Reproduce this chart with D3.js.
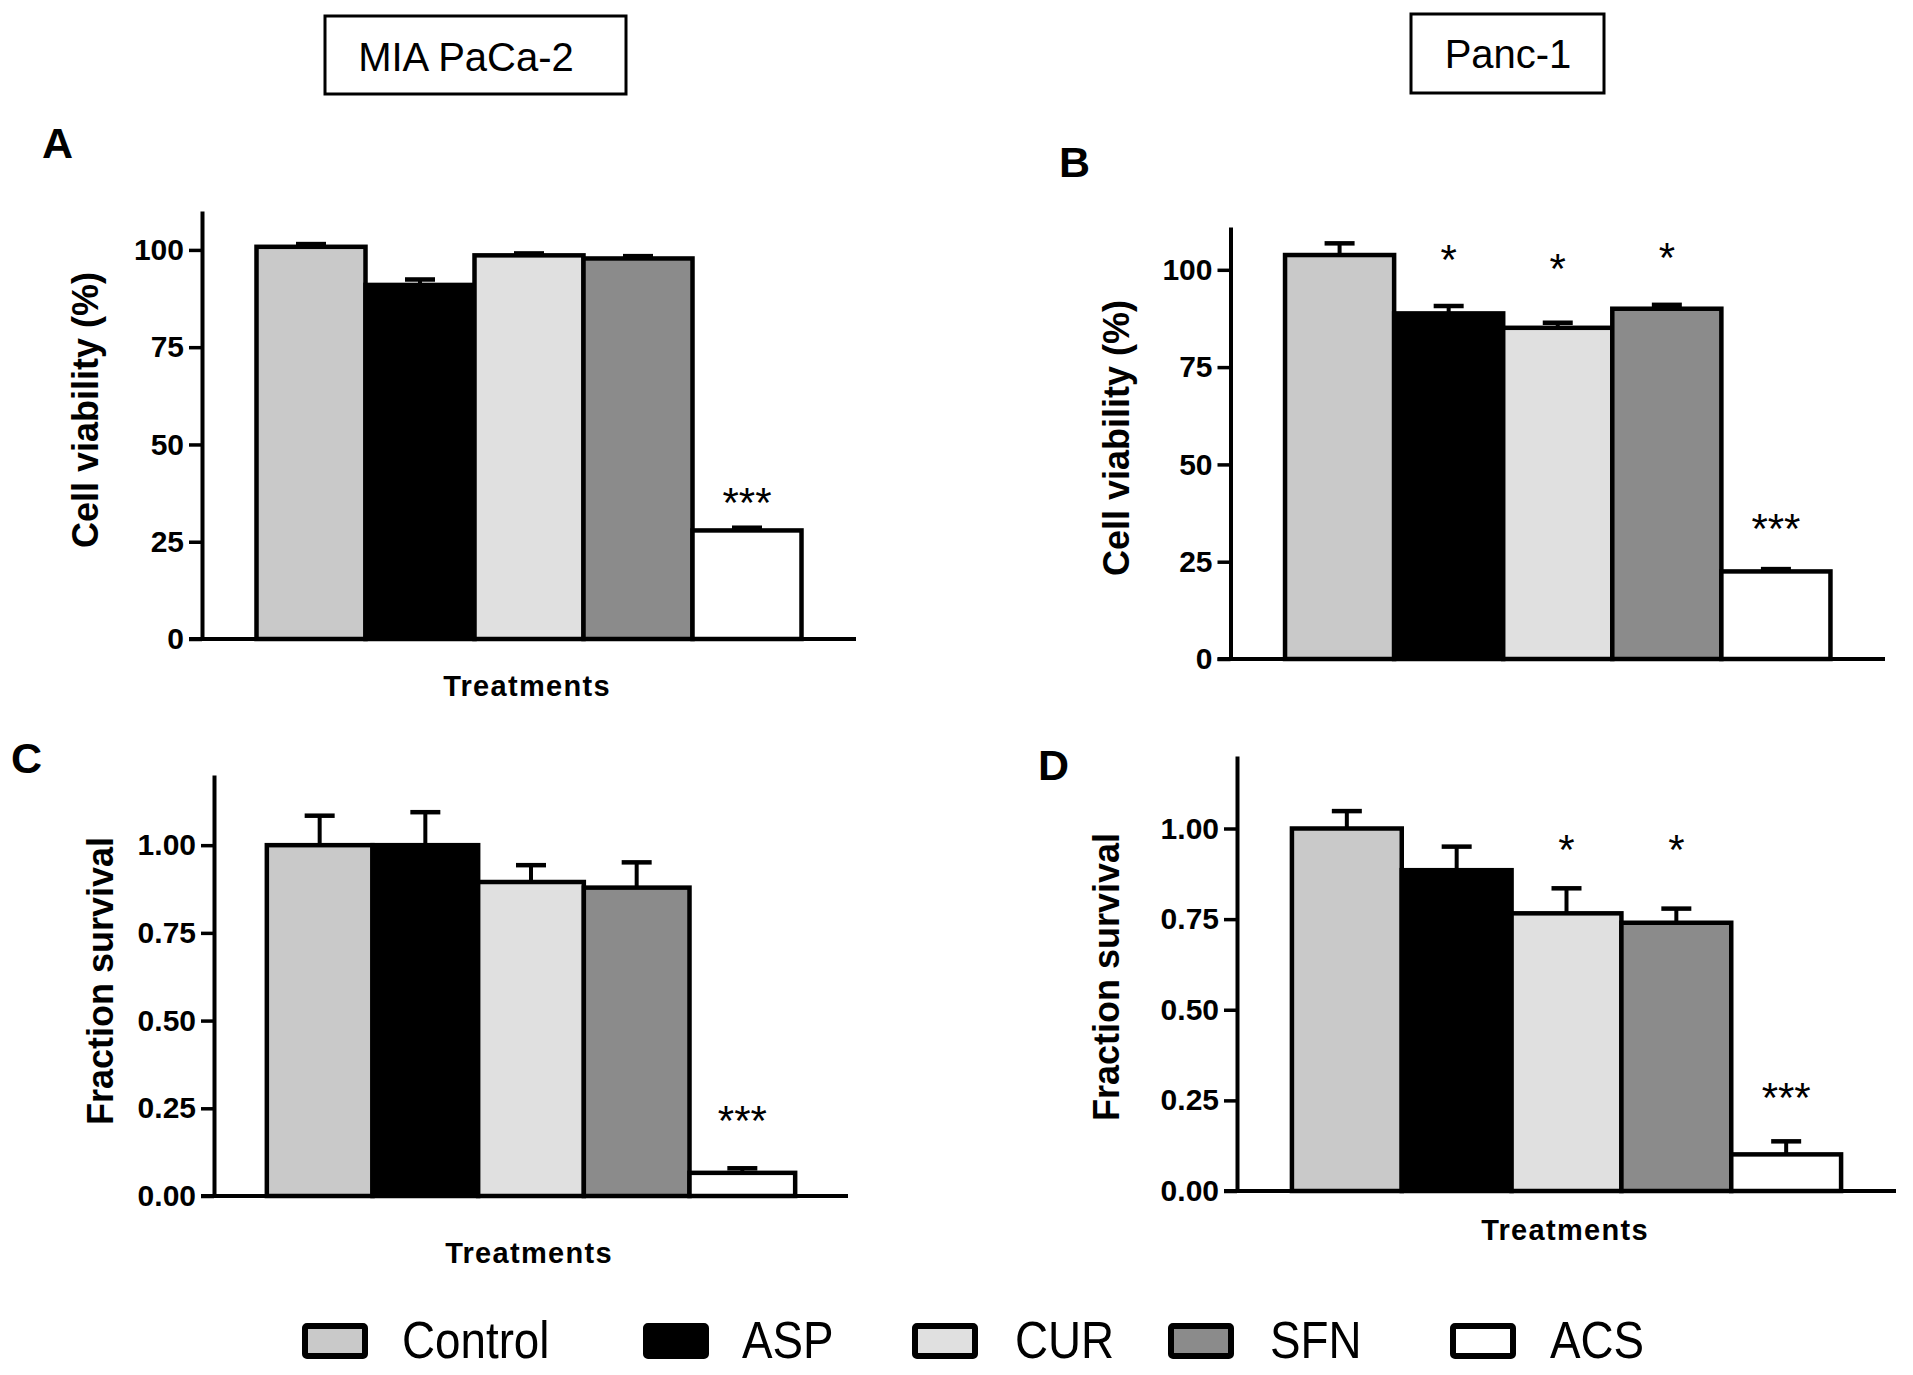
<!DOCTYPE html>
<html>
<head>
<meta charset="utf-8">
<script src="https://cdn.jsdelivr.net/npm/d3@7"></script>
<style>
  body { margin: 0; background: #fff; }
  text { font-family: "Liberation Sans", Arial, sans-serif; }
</style>
</head>
<body>
<svg id="chart" width="1913" height="1375"></svg>
<script>
// treatments and bar fills
const treatments = ["Control", "ASP", "CUR", "SFN", "ACS"];
const fills = ["#c9c9c9", "#000000", "#e0e0e0", "#8b8b8b", "#ffffff"];

// A: MIA PaCa-2 viability (%)
const viabilityMia = [100.8, 91.0, 98.6, 97.8, 27.9];
const viabilityMiaErr = [0.7, 1.4, 0.5, 0.6, 0.7];
const sigViabilityMia = ["", "", "", "", "***"];
const sigViabilityMiaAt = [0, 0, 0, 0, 37.5];

// B: Panc-1 viability (%)
const viabilityPanc = [103.8, 88.8, 85.1, 90.0, 22.5];
const viabilityPancErr = [3.0, 1.9, 1.3, 1.0, 0.6];
const sigViabilityPanc = ["", "*", "*", "*", "***"];
const sigViabilityPancAt = [0, 105.2, 102.7, 105.5, 36.0];

// C: MIA PaCa-2 fraction survival
const survivalMia = [1.00, 1.00, 0.895, 0.879, 0.066];
const survivalMiaErr = [0.084, 0.094, 0.048, 0.072, 0.013];
const sigSurvivalMia = ["", "", "", "", "***"];
const sigSurvivalMiaAt = [0, 0, 0, 0, 0.242];

// D: Panc-1 fraction survival
const survivalPanc = [1.00, 0.885, 0.766, 0.740, 0.101];
const survivalPancErr = [0.048, 0.065, 0.069, 0.039, 0.036];
const sigSurvivalPanc = ["", "", "*", "*", "***"];
const sigSurvivalPancAt = [0, 0, 0.967, 0.967, 0.285];

const viabilityTicks = [0, 25, 50, 75, 100];
const survivalTicks = [0, 0.25, 0.5, 0.75, 1.0];

const svg = d3.select("#chart");
const fontBold = "bold";

// cell line header boxes
const headers = [
  {label: "MIA PaCa-2", x: 325, y: 16, w: 301, h: 78, tx: 466, ty: 71},
  {label: "Panc-1", x: 1411, y: 14, w: 193, h: 79, tx: 1508, ty: 68}
];
headers.forEach(h => {
  svg.append("rect")
    .attr("x", h.x).attr("y", h.y).attr("width", h.w).attr("height", h.h)
    .attr("fill", "#fff").attr("stroke", "#000").attr("stroke-width", 3);
  svg.append("text")
    .attr("x", h.tx).attr("y", h.ty)
    .attr("text-anchor", "middle")
    .attr("font-size", 40)
    .text(h.label);
});

function drawPanel(p) {
  const g = svg.append("g");

  const x = d3.scaleBand()
    .domain(treatments)
    .range([p.x0, p.x1])
    .paddingInner(0)
    .paddingOuter(0.5);

  const y = d3.scaleLinear()
    .domain(p.domain)
    .range([p.yBase, p.yTop]);

  // panel letter
  g.append("text")
    .attr("x", p.letterX).attr("y", p.letterY)
    .attr("font-size", 43).attr("font-weight", fontBold)
    .text(p.letter);

  // bars
  g.selectAll("rect.bar")
    .data(treatments)
    .join("rect")
    .attr("class", "bar")
    .attr("x", d => x(d))
    .attr("y", (d, i) => y(p.values[i]))
    .attr("width", x.bandwidth())
    .attr("height", (d, i) => y(0) - y(p.values[i]))
    .attr("fill", (d, i) => fills[i])
    .attr("stroke", "#000")
    .attr("stroke-width", 4.5);

  // upper error bars
  const err = g.selectAll("g.err")
    .data(treatments)
    .join("g")
    .attr("class", "err");
  err.append("line")
    .attr("x1", d => x(d) + x.bandwidth() / 2)
    .attr("x2", d => x(d) + x.bandwidth() / 2)
    .attr("y1", (d, i) => y(p.values[i]))
    .attr("y2", (d, i) => y(p.values[i] + p.errors[i]))
    .attr("stroke", "#000").attr("stroke-width", 4);
  err.append("line")
    .attr("x1", d => x(d) + x.bandwidth() / 2 - 15)
    .attr("x2", d => x(d) + x.bandwidth() / 2 + 15)
    .attr("y1", (d, i) => y(p.values[i] + p.errors[i]))
    .attr("y2", (d, i) => y(p.values[i] + p.errors[i]))
    .attr("stroke", "#000").attr("stroke-width", 4.5);

  // significance stars
  g.selectAll("text.sig")
    .data(treatments.filter((d, i) => p.sig[i]))
    .join("text")
    .attr("class", "sig")
    .attr("text-anchor", "middle")
    .attr("font-size", 42)
    .attr("x", d => x(d) + x.bandwidth() / 2)
    .attr("y", d => y(p.sigAt[treatments.indexOf(d)]) + 24)
    .text(d => p.sig[treatments.indexOf(d)]);

  // y axis
  const axis = g.append("g")
    .attr("transform", `translate(${p.x0},0)`)
    .call(d3.axisLeft(y)
      .tickValues(p.ticks)
      .tickFormat(p.format)
      .tickSize(13)
      .tickSizeOuter(0)
      .tickPadding(5));
  axis.select(".domain").attr("stroke", "#000").attr("stroke-width", 4);
  axis.selectAll(".tick line").attr("stroke", "#000").attr("stroke-width", 3.5);
  axis.selectAll(".tick text")
    .attr("fill", "#000")
    .attr("font-size", 30)
    .attr("font-weight", fontBold)
    .attr("font-family", "'Liberation Sans', Arial, sans-serif");

  // x axis baseline
  g.append("line")
    .attr("x1", p.x0 - 13).attr("x2", p.x1)
    .attr("y1", y(0)).attr("y2", y(0))
    .attr("stroke", "#000").attr("stroke-width", 4);

  // y title
  g.append("text")
    .attr("transform", `translate(${p.yLabelX},${p.yLabelY}) rotate(-90)`)
    .attr("text-anchor", "middle")
    .attr("font-size", 36).attr("font-weight", fontBold)
    .text(p.yLabel);

  // x title
  if (p.xLabel) {
    g.append("text")
      .attr("x", p.xLabelX).attr("y", p.xLabelY)
      .attr("text-anchor", "middle")
      .attr("font-size", 29).attr("font-weight", fontBold)
      .attr("letter-spacing", 1.3)
      .text(p.xLabel);
  }
}

const pctFormat = d3.format("d");
const fracFormat = d3.format(".2f");

drawPanel({
  letter: "A", letterX: 42, letterY: 158,
  values: viabilityMia, errors: viabilityMiaErr, sig: sigViabilityMia, sigAt: sigViabilityMiaAt,
  domain: [0, 110], ticks: viabilityTicks, format: pctFormat,
  x0: 202, x1: 856, yBase: 639, yTop: 211,
  yLabel: "Cell viability (%)", yLabelX: 98, yLabelY: 410,
  xLabel: "Treatments", xLabelX: 527, xLabelY: 696
});
drawPanel({
  letter: "B", letterX: 1059, letterY: 177,
  values: viabilityPanc, errors: viabilityPancErr, sig: sigViabilityPanc, sigAt: sigViabilityPancAt,
  domain: [0, 111], ticks: viabilityTicks, format: pctFormat,
  x0: 1230.5, x1: 1885, yBase: 659, yTop: 227,
  yLabel: "Cell viability (%)", yLabelX: 1129, yLabelY: 438,
  xLabel: null
});
drawPanel({
  letter: "C", letterX: 11, letterY: 773,
  values: survivalMia, errors: survivalMiaErr, sig: sigSurvivalMia, sigAt: sigSurvivalMiaAt,
  domain: [0, 1.2], ticks: survivalTicks, format: fracFormat,
  x0: 214, x1: 848, yBase: 1196, yTop: 775,
  yLabel: "Fraction survival", yLabelX: 113, yLabelY: 981,
  xLabel: "Treatments", xLabelX: 529, xLabelY: 1263
});
drawPanel({
  letter: "D", letterX: 1038, letterY: 780,
  values: survivalPanc, errors: survivalPancErr, sig: sigSurvivalPanc, sigAt: sigSurvivalPancAt,
  domain: [0, 1.2], ticks: survivalTicks, format: fracFormat,
  x0: 1237, x1: 1896, yBase: 1191, yTop: 756,
  yLabel: "Fraction survival", yLabelX: 1119, yLabelY: 977,
  xLabel: "Treatments", xLabelX: 1565, xLabelY: 1240
});

// legend
const legendBoxX = [302, 643, 912, 1168, 1450];
const legendTextX = [402, 742, 1015, 1270, 1550];
const legend = svg.append("g");
treatments.forEach((t, i) => {
  legend.append("rect")
    .attr("x", legendBoxX[i] + 3).attr("y", 1326)
    .attr("width", 60).attr("height", 30)
    .attr("rx", 2)
    .attr("fill", fills[i])
    .attr("stroke", "#000").attr("stroke-width", 6);
  legend.append("text")
    .attr("transform", `translate(${legendTextX[i]},1358) scale(0.88,1)`)
    .attr("font-size", 52)
    .text(t);
});
</script>
</body>
</html>
